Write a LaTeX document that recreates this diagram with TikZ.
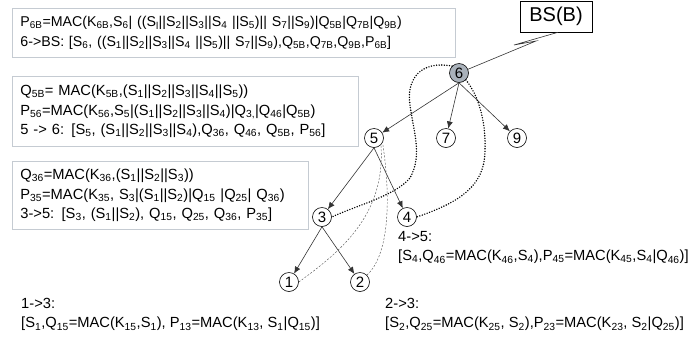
\documentclass[tikz,border=0pt]{standalone}
\usepackage{fontspec}
\setmainfont{Liberation Sans}
\usetikzlibrary{arrows.meta}
\newcommand\dn[1]{\textsubscript{#1}}
\definecolor{boxline}{HTML}{C5CBD2}
\definecolor{rootfill}{HTML}{A9B1BA}
\definecolor{edge}{HTML}{333333}
\begin{document}
\begin{tikzpicture}[x=1pt,y=-1pt,
  txt/.style={font=\fontsize{14.7}{19.5}\selectfont, align=left, inner sep=0pt},
  infobox/.style={txt, draw=boxline, line width=0.8pt, anchor=north west,
    inner xsep=8pt, inner ysep=0pt},
  sensor/.style={circle, draw=black, line width=0.6pt, fill=white,
    minimum size=19pt, inner sep=0pt, font=\fontsize{15}{15}\selectfont},
  tree/.style={draw=edge, line width=0.6pt, -{Latex[length=7pt,width=6pt]}},
  report/.style={line width=1.6pt, dash pattern=on 0pt off 2.6pt, line cap=round},
  peer/.style={draw=black!65, line width=0.45pt, dash pattern=on 2pt off 1.6pt}]
\useasboundingbox (0,0) rectangle (696,341);

% information boxes
\node[infobox, text width=427pt, minimum height=49pt,
  font=\fontsize{14.2}{19.5}\selectfont] (b6) at (12,8)
  {P\dn{6B}=MAC(K\dn{6B},S\dn{6}| ((S\dn{l}||S\dn{2}||S\dn{3}||S\dn{4} ||S\dn{5})|| S\dn{7}||S\dn{9})|Q\dn{5B}|Q\dn{7B}|Q\dn{9B})\\
   6->BS: {[}S\dn{6}, ((S\dn{1}||S\dn{2}||S\dn{3}||S\dn{4} ||S\dn{5})|| S\dn{7}||S\dn{9}),Q\dn{5B},Q\dn{7B},Q\dn{9B},P\dn{6B}]};
\node[infobox, text width=330pt, minimum height=70pt] (b5) at (12,76)
  {Q\dn{5B}= MAC(K\dn{5B},(S\dn{1}||S\dn{2}||S\dn{3}||S\dn{4}||S\dn{5}))\\
   P\dn{56}=MAC(K\dn{56},S\dn{5}|(S\dn{1}||S\dn{2}||S\dn{3}||S\dn{4})|Q\dn{3,}|Q\dn{46}|Q\dn{5B})\\
   5 -> 6: {[}S\dn{5}, (S\dn{1}||S\dn{2}||S\dn{3}||S\dn{4}),Q\dn{36}, Q\dn{46}, Q\dn{5B}, P\dn{56}]};
\node[infobox, text width=280pt, minimum height=68pt] (b3) at (12,161)
  {Q\dn{36}=MAC(K\dn{36},(S\dn{1}||S\dn{2}||S\dn{3}))\\
   P\dn{35}=MAC(K\dn{35}, S\dn{3}|(S\dn{1}||S\dn{2})|Q\dn{15} |Q\dn{25}| Q\dn{36})\\
   3->5: {[}S\dn{3}, (S\dn{1}||S\dn{2}), Q\dn{15}, Q\dn{25}, Q\dn{36}, P\dn{35}]};

% free-standing messages
\node[txt, anchor=north west] (m4) at (398,231)
  {4->5:\\ {[}S\dn{4},Q\dn{46}=MAC(K\dn{46},S\dn{4}),P\dn{45}=MAC(K\dn{45},S\dn{4}|Q\dn{46})]};
\node[txt, anchor=north west] (m1) at (21,298)
  {1->3:\\ {[}S\dn{1},Q\dn{15}=MAC(K\dn{15},S\dn{1}), P\dn{13}=MAC(K\dn{13}, S\dn{1}|Q\dn{15})]};
\node[txt, anchor=north west] (m2) at (385,298)
  {2->3:\\ {[}S\dn{2},Q\dn{25}=MAC(K\dn{25}, S\dn{2}),P\dn{23}=MAC(K\dn{23}, S\dn{2}|Q\dn{25})]};

% base station
\node[draw=black, line width=0.6pt, minimum width=72pt, minimum height=31pt,
  inner sep=0pt, font=\fontsize{20}{20}\selectfont] (bs) at (556,16.5) {BS(B)};

% sensor nodes
\node[sensor, fill=rootfill] (n6) at (459,73) {6};
\node[sensor] (n5) at (374,138) {5};
\node[sensor] (n7) at (446,138) {7};
\node[sensor] (n9) at (517,138) {9};
\node[sensor] (n3) at (322,217) {3};
\node[sensor] (n4) at (407,217) {4};
\node[sensor] (n1) at (289,282) {1};
\node[sensor] (n2) at (360,282) {2};

% wireless link to the base station
\coordinate (z1) at (514,45);
\coordinate (z2) at (536,41);
\draw[edge, line width=0.6pt] (bs.south) ++(2,0) coordinate (zs) -- (z1) -- (z2) -- (n6);

% aggregation tree
\draw[tree] (n6.south) -- (n5);
\draw[tree] (n6.south) -- (n7);
\draw[tree] (n6.south) -- (n9);
\draw[tree] (n5.south) -- (n3);
\draw[tree] (n5.south) -- (n4);
\draw[tree] (n3.south) -- (n1);
\draw[tree] (n3.south) -- (n2);

% reports forwarded past the parent
\draw[report] (n6.north west) .. controls (420,60) and (406,80) .. (410,105)
  .. controls (413,130) and (423,155) .. (410,178)
  .. controls (395,196) and (355,206) .. (n3.east);
\draw[report] (n6.south east) .. controls (478,95) and (486,120) .. (485,150)
  .. controls (485,186) and (460,202) .. (n4.east);

% reports skipping a level
\draw[peer] (n1.east) .. controls (340,252) and (386,215) .. (n5.south east);
\draw[peer] (n2.north east) .. controls (389,255) and (391,200) .. ([xshift=2pt]n5.south east);
\end{tikzpicture}
\end{document}
